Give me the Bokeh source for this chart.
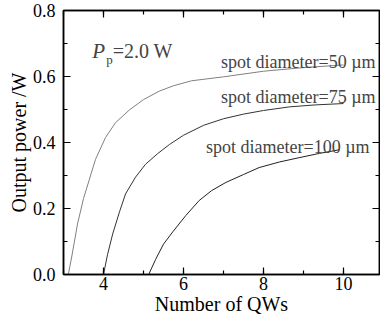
from bokeh.plotting import figure
from bokeh.models import (LinearAxis, SingleIntervalTicker, NumeralTickFormatter,
                          Label, Range1d, CustomJSTickFormatter)
from bokeh.embed import file_html
from bokeh.resources import INLINE

# --- data ---
x_50 = [3.12, 3.2, 3.35, 3.5, 3.8, 4.05, 4.3, 4.65, 5.0, 5.4, 5.75, 6.2, 7.0, 8.0, 9.0, 10.0]
y_50 = [0.0, 0.05, 0.153, 0.23, 0.349, 0.415, 0.46, 0.499, 0.53, 0.556, 0.572, 0.587, 0.599, 0.616, 0.627, 0.635]

x_75 = [4.0, 4.1, 4.23, 4.4, 4.55, 4.8, 5.05, 5.35, 5.65, 6.0, 6.5, 7.0, 7.5, 8.0, 8.65, 9.3, 10.0]
y_75 = [0.0, 0.06, 0.123, 0.19, 0.244, 0.295, 0.334, 0.366, 0.394, 0.422, 0.452, 0.472, 0.486, 0.497, 0.508, 0.514, 0.518]

x_100 = [5.13, 5.3, 5.5, 5.73, 6.06, 6.39, 6.7, 7.06, 7.5, 7.89, 8.4, 8.89, 9.4, 9.9]
y_100 = [0.0, 0.045, 0.092, 0.129, 0.179, 0.224, 0.254, 0.279, 0.303, 0.324, 0.341, 0.354, 0.367, 0.378]

labels = ["spot diameter=50 \u00b5m", "spot diameter=75 \u00b5m", "spot diameter=100 \u00b5m"]

FONT = "Liberation Serif"

p = figure(width=380, height=320, output_backend="svg", toolbar_location=None,
           x_range=Range1d(3, 10.9), y_range=Range1d(0, 0.8),
           min_border_left=63, min_border_right=1, min_border_top=10, min_border_bottom=46)
p.background_fill_color = "white"
p.border_fill_color = "white"
p.grid.visible = False
p.outline_line_color = "black"
p.outline_line_width = 1.5

p.line(x_50, y_50, line_color="#808080", line_width=1)
p.line(x_75, y_75, line_color="#333333", line_width=1)
p.line(x_100, y_100, line_color="#222222", line_width=1)

def style_axis(ax):
    ax.major_tick_in = 7
    ax.major_tick_out = 0
    ax.minor_tick_in = 4
    ax.minor_tick_out = 0
    ax.axis_line_color = "black"
    ax.axis_line_width = 1.5
    ax.major_tick_line_width = 1.2
    ax.minor_tick_line_width = 1.2
    ax.major_label_text_font = FONT
    ax.major_label_text_font_size = "18px"
    ax.major_label_text_color = "black"
    ax.axis_label_text_font = FONT
    ax.axis_label_text_font_size = "20px"
    ax.axis_label_text_font_style = "normal"
    ax.axis_label_text_color = "black"

p.xaxis.ticker = SingleIntervalTicker(interval=2, num_minor_ticks=2)
p.yaxis.ticker = SingleIntervalTicker(interval=0.2, num_minor_ticks=2)
p.yaxis.formatter = NumeralTickFormatter(format="0.0")
style_axis(p.xaxis[0])
style_axis(p.yaxis[0])
p.xaxis.axis_label = "Number of QWs"
p.yaxis.axis_label = "Output power /W"
p.xaxis.major_label_standoff = 2
p.yaxis.major_label_standoff = 8
p.xaxis.axis_label_standoff = 0
p.yaxis.axis_label_standoff = 0

blank = CustomJSTickFormatter(code="return ''")
top = LinearAxis(ticker=SingleIntervalTicker(interval=2, num_minor_ticks=2), formatter=blank)
style_axis(top)
top.major_label_standoff = 0
right = LinearAxis(ticker=SingleIntervalTicker(interval=0.2, num_minor_ticks=2), formatter=blank)
style_axis(right)
right.major_label_standoff = 0
p.add_layout(top, "above")
p.add_layout(right, "right")

# annotations
p.add_layout(Label(x=3.72, y=0.677, text="P", text_font=FONT, text_font_style="italic",
                   text_font_size="21px", text_baseline="alphabetic"))
p.add_layout(Label(x=4.07, y=0.652, text="p", text_font=FONT,
                   text_font_size="13px", text_baseline="alphabetic"))
p.add_layout(Label(x=4.23, y=0.677, text="=2.0 W", text_font=FONT,
                   text_font_size="20px", text_baseline="alphabetic"))

p.add_layout(Label(x=10.8, y=0.644, text=labels[0], text_font=FONT, text_font_size="18px",
                   text_align="right", text_baseline="alphabetic"))
p.add_layout(Label(x=10.8, y=0.538, text=labels[1], text_font=FONT, text_font_size="18px",
                   text_align="right", text_baseline="alphabetic"))
p.add_layout(Label(x=10.65, y=0.385, text=labels[2], text_font=FONT, text_font_size="18px",
                   text_align="right", text_baseline="alphabetic"))

open("out.html", "w").write(file_html(p, INLINE))
